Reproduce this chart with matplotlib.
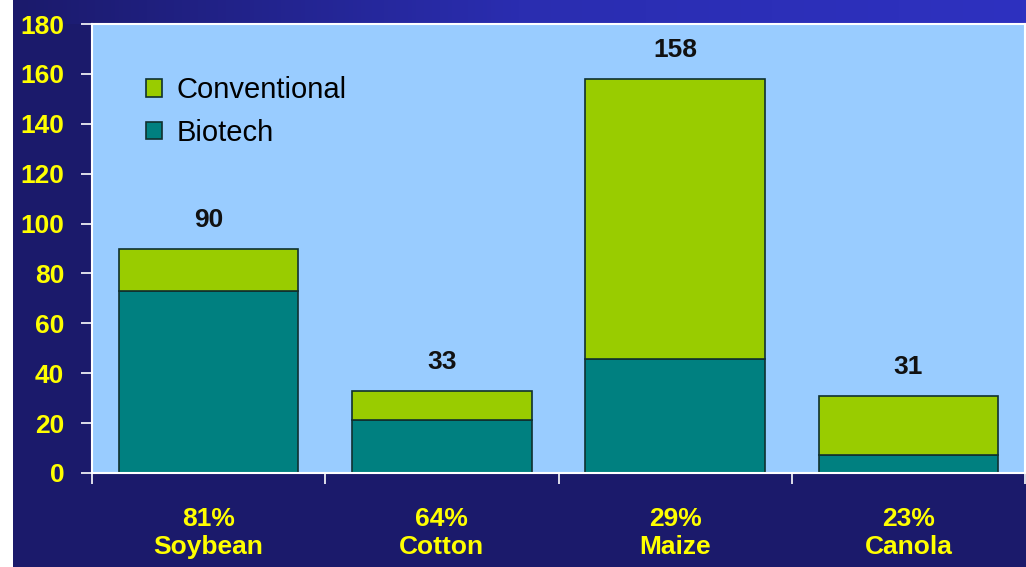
import numpy as np
import matplotlib
matplotlib.use('Agg')
import matplotlib.pyplot as plt
from matplotlib.colors import LinearSegmentedColormap

crops = ["Soybean", "Cotton", "Maize", "Canola"]
adoption_pct = [81, 64, 29, 23]
total_area = [90, 33, 158, 31]
biotech_area = [72.9, 21.1, 45.8, 7.1]
conventional_area = [t - b for t, b in zip(total_area, biotech_area)]

navy = "#1b1a6b"
yellow = "#ffff00"
green = "#99cc00"
teal = "#008080"
plot_bg = "#99ccff"

plt.rcParams['font.family'] = ['Liberation Sans', 'DejaVu Sans']

W, H = 1026, 567
fig = plt.figure(figsize=(W / 100, H / 100), dpi=100)
fig.patch.set_facecolor(navy)

# slide background: navy with a blue gradient strip along the top
bg = fig.add_axes([0, 0, 1, 1], zorder=-10)
bg.set_xlim(0, W)
bg.set_ylim(H, 0)
bg.axis("off")
strip = LinearSegmentedColormap.from_list("strip", [navy, "#2a2db0", "#2e31c0"])
grad = np.linspace(0, 1, 256).reshape(1, -1)
bg.imshow(grad, cmap=strip, extent=[12, W, 24, 0], aspect="auto")
bg.add_patch(plt.Rectangle((0, 0), 13, H, color="white", lw=0))

ax = fig.add_axes([92 / W, (H - 473) / H, (1025 - 92) / W, (473 - 24) / H])
ax.set_facecolor(plot_bg)

x = np.arange(len(crops))
bw = 0.77
ax.bar(x, biotech_area, bw, color=teal, edgecolor="#10302f", lw=1.2, label="Biotech")
ax.bar(x, conventional_area, bw, bottom=biotech_area, color=green,
       edgecolor="#10302f", lw=1.2, label="Conventional")

for xi, t in zip(x, total_area):
    ax.annotate(str(t), (xi, t), xytext=(0, 12), textcoords="offset points",
                ha="center", va="bottom", fontsize=19, fontweight="bold", color="#111111")

ax.set_xlim(-0.5, len(crops) - 0.5)
ax.set_ylim(0, 180)
ax.set_yticks(range(0, 181, 20))
ax.set_xticks(x)
ax.set_xticklabels([f"{p}%\n{c}" for p, c in zip(adoption_pct, crops)],
                   fontsize=19, fontweight="bold", color=yellow, linespacing=1.2)
ax.set_xticks(np.arange(-0.5, len(crops)), minor=True)
ax.tick_params(axis="x", which="major", length=0, pad=24.5)
ax.tick_params(axis="x", which="minor", length=8, width=1.2, color="white", direction="out")
ax.tick_params(axis="y", length=8, width=1.2, color="white", direction="out",
               labelsize=19, labelcolor=yellow, pad=12)
for lbl in ax.get_yticklabels():
    lbl.set_fontweight("bold")
for s in ax.spines.values():
    s.set_color("white")
    s.set_linewidth(1.5)

handles, labels = ax.get_legend_handles_labels()
leg = ax.legend(handles[::-1], labels[::-1], loc="upper left", bbox_to_anchor=(0.030, 0.942),
                frameon=False, fontsize=21, handlelength=0.55, handleheight=0.55,
                handletextpad=0.48, labelspacing=0.5)

fig.savefig("out.png", dpi=100, facecolor=fig.get_facecolor())
